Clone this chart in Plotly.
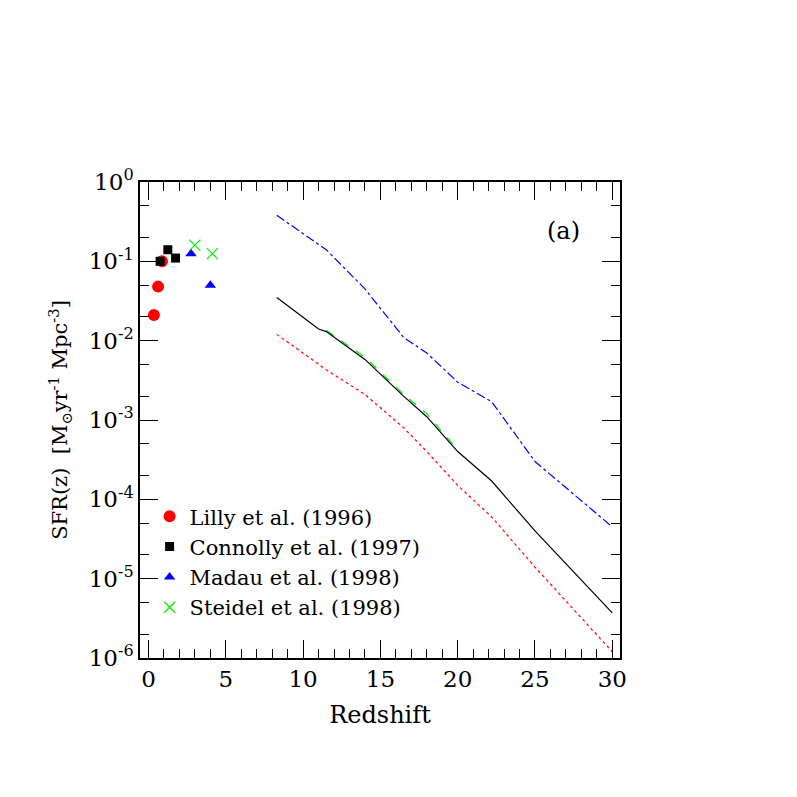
import plotly.graph_objects as go

lilly_z = [0.35, 0.62, 0.87]
lilly_sfr = [0.021, 0.048, 0.10]
conn_z = [0.75, 1.25, 1.75]
conn_sfr = [0.10, 0.14, 0.11]
madau_z = [2.75, 4.0]
madau_sfr = [0.125, 0.05]
steidel_z = [3.0, 4.13]
steidel_sfr = [0.16, 0.125]

line_z = [8.3, 11.0, 11.5, 14.0, 16.5, 18.0, 20.0, 22.2, 25.0, 30.0]
black_sfr = [0.035, 0.014, 0.013, 0.0058, 0.002, 0.0011, 0.0004, 0.00017, 0.00004, 3.7e-6]
red_sfr = [0.012, 0.005, 0.0043, 0.0021, 0.0008, 0.0004, 0.00015, 0.00006, 1.4e-5, 1.2e-6]
blue_sfr = [0.38, 0.16, 0.14, 0.045, 0.011, 0.007, 0.003, 0.0017, 0.0003, 4.5e-5]
green_z = [11.5, 14.0, 16.5, 18.0, 20.0]
green_sfr = [0.0135, 0.0062, 0.0021, 0.0012, 0.00042]

ytick_vals = [1, 0.1, 0.01, 1e-3, 1e-4, 1e-5, 1e-6]
ytick_text = ["10<sup>0</sup>", "10<sup>-1</sup>", "10<sup>-2</sup>", "10<sup>-3</sup>",
              "10<sup>-4</sup>", "10<sup>-5</sup>", "10<sup>-6</sup>"]

fig = go.Figure()
fig.add_trace(go.Scatter(x=line_z, y=red_sfr, mode="lines", line=dict(color="red", dash="dot", width=1.2), showlegend=False))
fig.add_trace(go.Scatter(x=line_z, y=blue_sfr, mode="lines", line=dict(color="blue", dash="dashdot", width=1.2), showlegend=False))
fig.add_trace(go.Scatter(x=green_z, y=green_sfr, mode="lines", line=dict(color="#00ee00", dash="dash", width=1.2), showlegend=False))
fig.add_trace(go.Scatter(x=line_z, y=black_sfr, mode="lines", line=dict(color="black", width=1.2), showlegend=False))
fig.add_trace(go.Scatter(x=lilly_z, y=lilly_sfr, mode="markers", name="Lilly et al. (1996)",
                         marker=dict(symbol="circle", color="red", size=12)))
fig.add_trace(go.Scatter(x=conn_z, y=conn_sfr, mode="markers", name="Connolly et al. (1997)",
                         marker=dict(symbol="square", color="black", size=9)))
fig.add_trace(go.Scatter(x=madau_z, y=madau_sfr, mode="markers", name="Madau et al. (1998)",
                         marker=dict(symbol="triangle-up", color="blue", size=10)))
fig.add_trace(go.Scatter(x=steidel_z, y=steidel_sfr, mode="markers", name="Steidel et al. (1998)",
                         marker=dict(symbol="x-thin", color="#00ee00", size=11, line=dict(color="#00ee00", width=1.2))))

axis_common = dict(showline=True, linecolor="black", linewidth=1.5, mirror="allticks",
                   ticks="inside", tickcolor="black", showgrid=False, zeroline=False)
fig.update_xaxes(range=[-0.55, 30.5], tickvals=[0, 5, 10, 15, 20, 25, 30], ticklen=18,
                 minor=dict(dtick=1, ticks="inside", ticklen=9, tickcolor="black"),
                 title=dict(text="Redshift", font=dict(size=24)), tickfont=dict(size=23), **axis_common)
fig.update_yaxes(type="log", range=[-6, 0], tickvals=ytick_vals, ticktext=ytick_text, ticklen=18,
                 minor=dict(ticks="inside", ticklen=9, tickcolor="black"),
                 title=dict(text="SFR(z)  [M<sub>⊙</sub>yr<sup>-1</sup> Mpc<sup>-3</sup>]", font=dict(size=21)),
                 tickfont=dict(size=23), **axis_common)
fig.add_annotation(x=0.92, y=0.93, xref="paper", yref="paper", text="(a)", showarrow=False,
                   font=dict(size=24))
fig.update_layout(width=797, height=797, paper_bgcolor="white", plot_bgcolor="white",
                  font=dict(family="DejaVu Serif", color="black"),
                  margin=dict(l=132, r=185, t=174, b=147),
                  legend=dict(x=0.02, y=0.34, xanchor="left", yanchor="top", font=dict(size=21),
                              bgcolor="rgba(0,0,0,0)", tracegroupgap=4))
fig.write_html("out.html")
